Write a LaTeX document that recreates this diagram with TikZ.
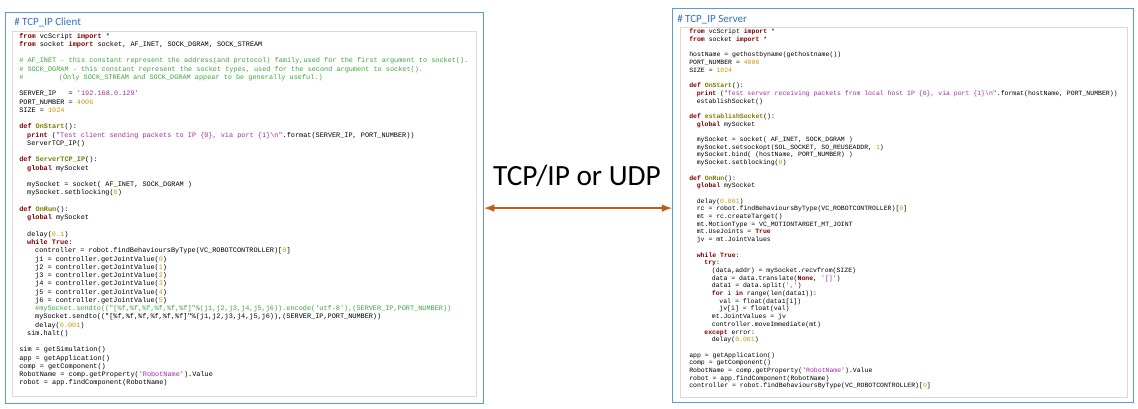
\documentclass[tikz,border=0pt]{standalone}
\usepackage{fontspec}
\setmainfont{Carlito}
\setmonofont{Liberation Mono}
\usepackage{tikz}

\definecolor{kwred}{HTML}{7F0000}
\definecolor{strpurple}{HTML}{A02BA0}
\definecolor{numgold}{HTML}{C8960A}
\definecolor{cmgreen}{HTML}{3AA53A}
\definecolor{fnolive}{HTML}{7A7A00}
\definecolor{titleblue}{HTML}{2F6EBA}
\definecolor{panelblue}{HTML}{5B9BD5}
\definecolor{arroworange}{HTML}{C55A11}

\newcommand{\kw}[1]{\textcolor{kwred}{\textbf{#1}}}
\newcommand{\st}[1]{\textcolor{strpurple}{#1}}
\newcommand{\nm}[1]{\textcolor{numgold}{#1}}
\newcommand{\cm}[1]{\textcolor{cmgreen}{#1}}
\newcommand{\fn}[1]{\textcolor{fnolive}{\textbf{#1}}}
% client line: row, indent, text
\newcommand{\cliline}[3]{\node[code] at ({19+#2*3.97},{38+(#1-1)*8.26}) {#3};}
% server line: row, indent, text
\newcommand{\srvline}[3]{\node[scode] at ({689+#2*3.77},{33.7+(#1-1)*7.7}) {#3};}

\begin{document}
\begin{tikzpicture}[x=0.75pt,y=-0.75pt,
    panel/.style={draw=panelblue, line width=0.9pt},
    codearea/.style={draw=black!15, line width=0.4pt},
    code/.style={anchor=base west, inner sep=0pt, font=\fontsize{5.15}{6}\selectfont\ttfamily},
    scode/.style={code, font=\fontsize{4.87}{6}\selectfont\ttfamily},
    title/.style={anchor=base west, inner sep=0pt, text=titleblue, font=\fontsize{8.25}{10}\selectfont}]
        \useasboundingbox (0,0) rectangle (1138,408);

        % panels
        \node[panel, minimum width=478*0.75pt, minimum height=391*0.75pt, anchor=north west, inner sep=0pt] (client) at (5,12) {};
        \node[panel, minimum width=461*0.75pt, minimum height=394*0.75pt, anchor=north west, inner sep=0pt] (server) at (672,8) {};
        \draw[codearea] (12,31) rectangle (476,396);
        \draw[codearea] (680,27) rectangle (1127,397);

        % titles
        \node[title] (clienttitle) at (14,25) {\# TCP\_IP Client};
        \node[title] (servertitle) at (677,22) {\# TCP\_IP Server};

        % link
        \draw[<->, >=latex, line width=1.6pt, color=arroworange] (client.east) -- (client.east -| server.west);
        \node[font=\fontsize{22}{26}\selectfont] (link) at (577,176) {TCP/IP or UDP};

        % client code
        \cliline{1}{0}{\kw{from} vcScript \kw{import} *}
        \cliline{2}{0}{\kw{from} socket \kw{import} socket, AF\_INET, SOCK\_DGRAM, SOCK\_STREAM}
        \cliline{4}{0}{\cm{\# AF\_INET - this constant represent the address(and protocol) family,used for the first argument to socket().}}
        \cliline{5}{0}{\cm{\# SOCK\_DGRAM - this constant represent the socket types, used for the second argument to socket().}}
        \cliline{6}{0}{\cm{\#}}
        \cliline{6}{10}{\cm{(Only SOCK\_STREAM and SOCK\_DGRAM appear to be generally useful.)}}
        \cliline{8}{0}{SERVER\_IP~~~= \st{'192.168.0.129'}}
        \cliline{9}{0}{PORT\_NUMBER = \nm{4006}}
        \cliline{10}{0}{SIZE = \nm{1024}}
        \cliline{12}{0}{\kw{def} \fn{OnStart}():}
        \cliline{13}{2}{\kw{print} (\st{"Test client sending packets to IP \{0\}, via port \{1\}\textbackslash n"}.format(SERVER\_IP, PORT\_NUMBER))}
        \cliline{14}{2}{ServerTCP\_IP()}
        \cliline{16}{0}{\kw{def} \fn{ServerTCP\_IP}():}
        \cliline{17}{2}{\kw{global} mySocket}
        \cliline{19}{2}{mySocket = socket( AF\_INET, SOCK\_DGRAM )}
        \cliline{20}{2}{mySocket.setblocking(\nm{0})}
        \cliline{22}{0}{\kw{def} \fn{OnRun}():}
        \cliline{23}{2}{\kw{global} mySocket}
        \cliline{25}{2}{delay(\nm{0.1})}
        \cliline{26}{2}{\kw{while} \kw{True}:}
        \cliline{27}{4}{controller = robot.findBehavioursByType(VC\_ROBOTCONTROLLER)[\nm{0}]}
        \foreach \j [evaluate=\j as \k using int(\j-1)] in {1,...,6}{
            \cliline{27+\j}{4}{j\j{} = controller.getJointValue(\nm{\k})}
        }
        \cliline{34}{4}{\cm{\#mySocket.sendto(("[\%f,\%f,\%f,\%f,\%f,\%f]"\%(j1,j2,j3,j4,j5,j6)).encode('utf-8'),(SERVER\_IP,PORT\_NUMBER))}}
        \cliline{35}{4}{mySocket.sendto(("[\%f,\%f,\%f,\%f,\%f,\%f]"\%(j1,j2,j3,j4,j5,j6)),(SERVER\_IP,PORT\_NUMBER))}
        \cliline{36}{4}{delay(\nm{0.001})}
        \cliline{37}{2}{sim.halt()}
        \cliline{39}{0}{sim = getSimulation()}
        \cliline{40}{0}{app = getApplication()}
        \cliline{41}{0}{comp = getComponent()}
        \cliline{42}{0}{RobotName = comp.getProperty(\st{'RobotName'}).Value}
        \cliline{43}{0}{robot = app.findComponent(RobotName)}

        % server code
        \srvline{1}{0}{\kw{from} vcScript \kw{import} *}
        \srvline{2}{0}{\kw{from} socket \kw{import} *}
        \srvline{4}{0}{hostName = gethostbyname(gethostname())}
        \srvline{5}{0}{PORT\_NUMBER = \nm{4006}}
        \srvline{6}{0}{SIZE = \nm{1024}}
        \srvline{8}{0}{\kw{def} \fn{OnStart}():}
        \srvline{9}{2}{\kw{print} (\st{"Test server receiving packets from local host IP \{0\}, via port \{1\}\textbackslash n"}.format(hostName, PORT\_NUMBER))}
        \srvline{10}{2}{establishSocket()}
        \srvline{12}{0}{\kw{def} \fn{establishSocket}():}
        \srvline{13}{2}{\kw{global} mySocket}
        \srvline{15}{2}{mySocket = socket( AF\_INET, SOCK\_DGRAM )}
        \srvline{16}{2}{mySocket.setsockopt(SOL\_SOCKET, SO\_REUSEADDR, \nm{1})}
        \srvline{17}{2}{mySocket.bind( (hostName, PORT\_NUMBER) )}
        \srvline{18}{2}{mySocket.setblocking(\nm{0})}
        \srvline{20}{0}{\kw{def} \fn{OnRun}():}
        \srvline{21}{2}{\kw{global} mySocket}
        \srvline{23}{2}{delay(\nm{0.001})}
        \srvline{24}{2}{rc = robot.findBehavioursByType(VC\_ROBOTCONTROLLER)[\nm{0}]}
        \srvline{25}{2}{mt = rc.createTarget()}
        \srvline{26}{2}{mt.MotionType = VC\_MOTIONTARGET\_MT\_JOINT}
        \srvline{27}{2}{mt.UseJoints = \kw{True}}
        \srvline{28}{2}{jv = mt.JointValues}
        \srvline{30}{2}{\kw{while} \kw{True}:}
        \srvline{31}{4}{\kw{try}:}
        \srvline{32}{6}{(data,addr) = mySocket.recvfrom(SIZE)}
        \srvline{33}{6}{data = data.translate(\kw{None}, \st{'[]'})}
        \srvline{34}{6}{data1 = data.split(\st{','})}
        \srvline{35}{6}{\kw{for} i \kw{in} range(len(data1)):}
        \srvline{36}{8}{val = float(data1[i])}
        \srvline{37}{8}{jv[i] = float(val)}
        \srvline{38}{6}{mt.JointValues = jv}
        \srvline{39}{6}{controller.moveImmediate(mt)}
        \srvline{40}{4}{\kw{except} error:}
        \srvline{41}{6}{delay(\nm{0.001})}
        \srvline{43}{0}{app = getApplication()}
        \srvline{44}{0}{comp = getComponent()}
        \srvline{45}{0}{RobotName = comp.getProperty(\st{'RobotName'}).Value}
        \srvline{46}{0}{robot = app.findComponent(RobotName)}
        \srvline{47}{0}{controller = robot.findBehavioursByType(VC\_ROBOTCONTROLLER)[\nm{0}]}
    \end{tikzpicture}
\end{document}
